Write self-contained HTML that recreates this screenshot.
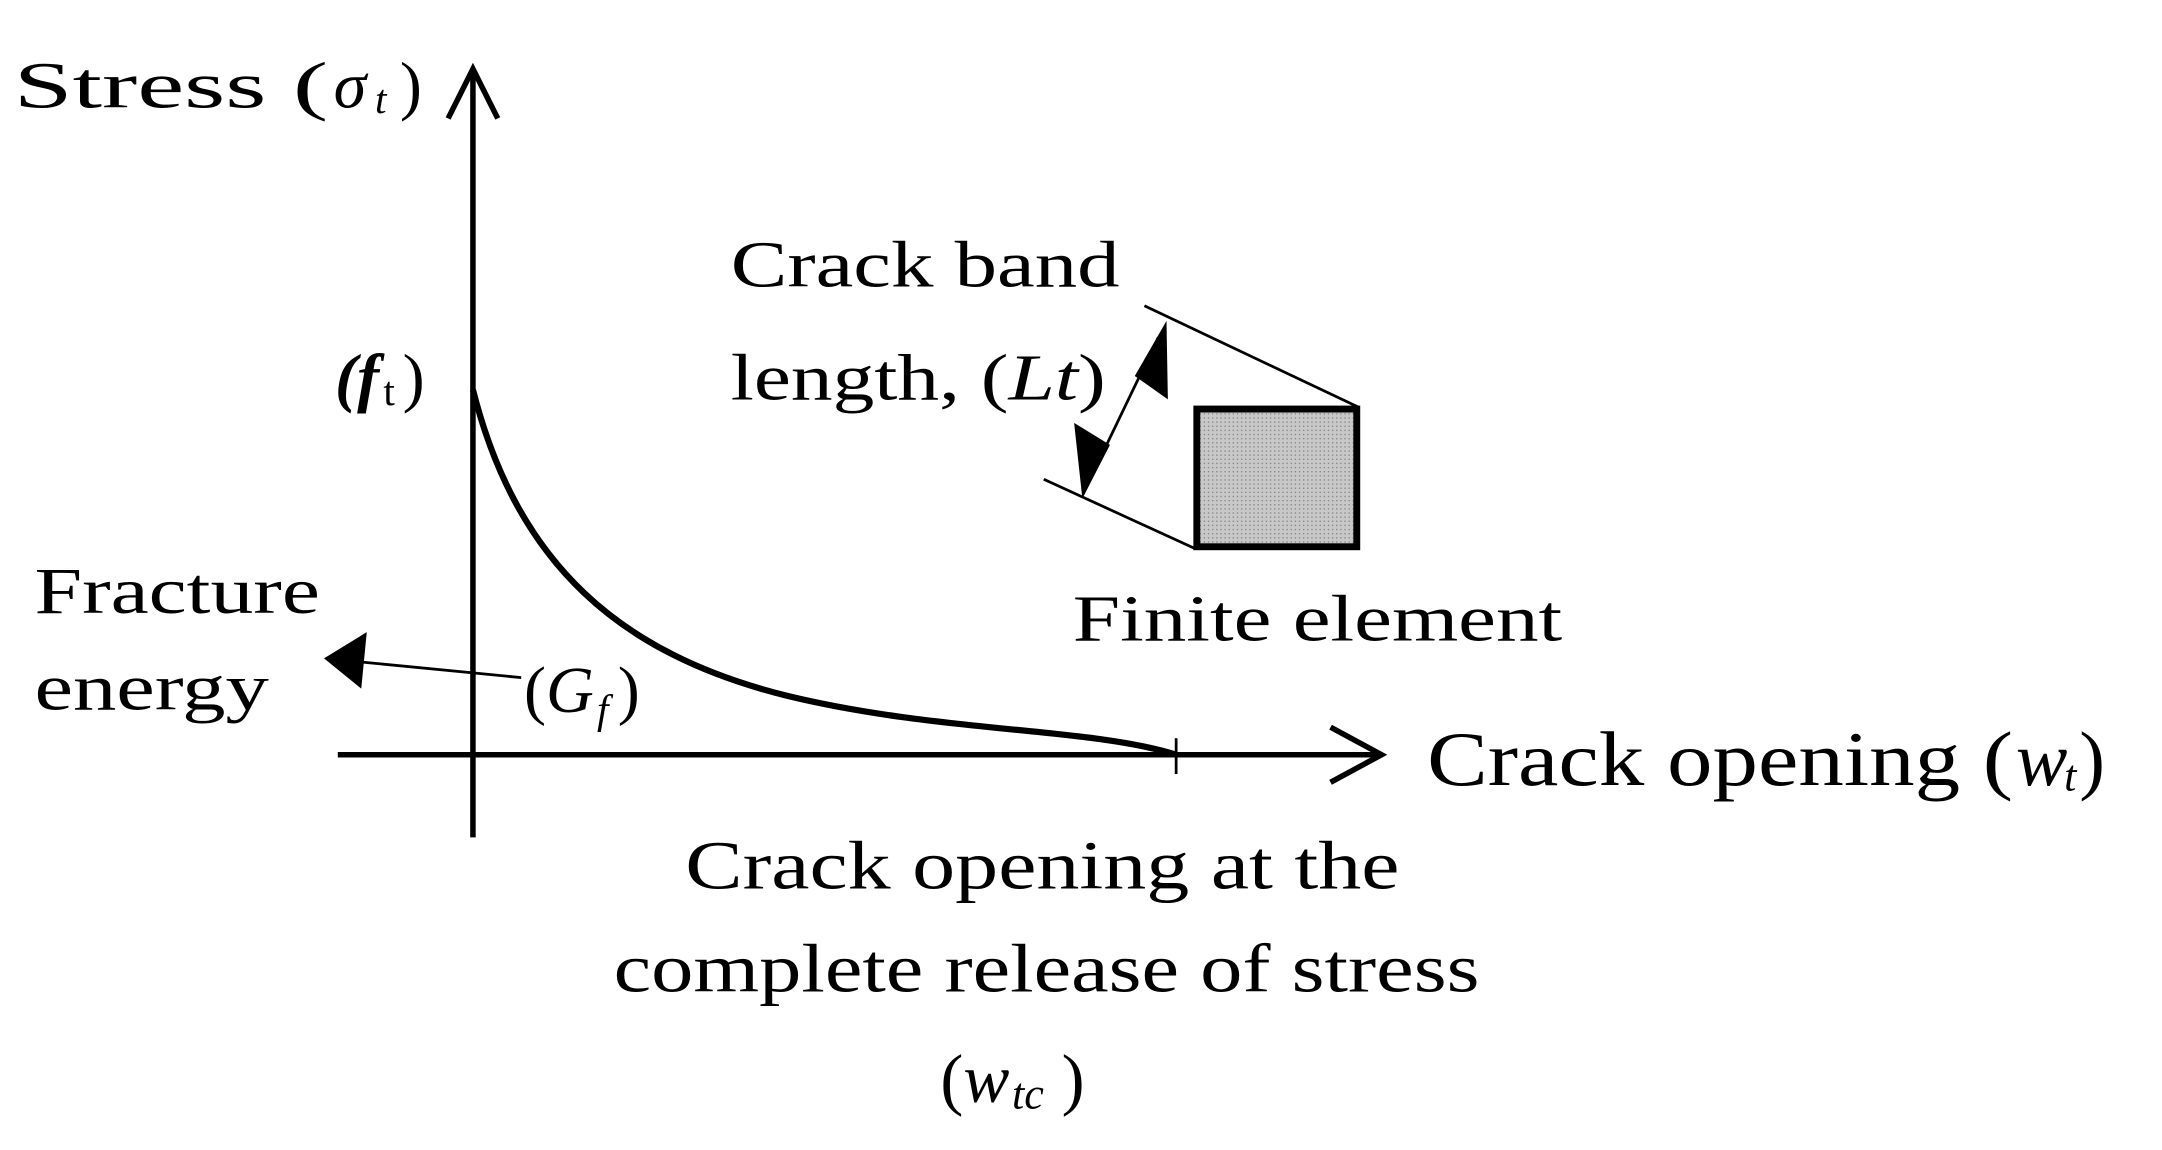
<!DOCTYPE html>
<html><head><meta charset="utf-8"><style>
html,body{margin:0;padding:0;background:#fff;}
svg{display:block;}
text{font-family:"Liberation Serif",serif;fill:#000;}
</style></head><body>
<svg width="2162" height="1150" viewBox="0 0 1568 835" preserveAspectRatio="none" xmlns="http://www.w3.org/2000/svg">
<defs>
<pattern id="dots" width="3" height="3" patternUnits="userSpaceOnUse">
<rect width="3" height="3" fill="#c8c8c8"/><rect width="1" height="1" fill="#888"/>
</pattern>
</defs>
<line x1="343" y1="52" x2="343" y2="608" stroke="#000" stroke-width="4"/>
<polyline points="325,86 343,50 361,86" fill="none" stroke="#000" stroke-width="4"/>
<line x1="245" y1="548" x2="1000" y2="548" stroke="#000" stroke-width="4"/>
<polyline points="965,528 1002,548 965,568" fill="none" stroke="#000" stroke-width="4"/>
<line x1="853" y1="536" x2="853" y2="562" stroke="#000" stroke-width="2"/>
<path d="M343,283 C375,410 450,475 570,505 C680,532 790,528 853,548" fill="none" stroke="#000" stroke-width="4.5"/>
<line x1="830" y1="222" x2="986" y2="296" stroke="#000" stroke-width="2"/>
<line x1="757" y1="348" x2="866" y2="398" stroke="#000" stroke-width="2"/>
<rect x="868" y="297" width="116" height="100" fill="url(#dots)" stroke="#000" stroke-width="5"/>
<line x1="840" y1="245" x2="792" y2="345" stroke="#000" stroke-width="2"/>
<polygon points="846,233 847,290 823,273" fill="#000"/>
<polygon points="785,362 779,307 805,323" fill="#000"/>
<line x1="378" y1="492" x2="255" y2="480" stroke="#000" stroke-width="2"/>
<polygon points="235,478 266,459 262,500" fill="#000"/>
<text x="10" y="78" font-size="48" textLength="228" lengthAdjust="spacingAndGlyphs">Stress (</text>
<text x="242" y="78" font-size="48" font-style="italic">σ</text>
<text x="272" y="82" font-size="30" font-style="italic">t</text>
<text x="290" y="78" font-size="48">)</text>
<text x="243" y="290" font-size="48" font-style="italic" font-weight="bold">(f</text>
<text x="278" y="294" font-size="30">t</text>
<text x="292" y="290" font-size="48">)</text>
<text x="530" y="208" font-size="48" textLength="282" lengthAdjust="spacingAndGlyphs">Crack band</text>
<text x="530" y="290" font-size="48" textLength="272" lengthAdjust="spacingAndGlyphs">length, (<tspan font-style="italic">Lt</tspan>)</text>
<text x="778" y="465" font-size="48" textLength="355" lengthAdjust="spacingAndGlyphs">Finite element</text>
<text x="25" y="445" font-size="48" textLength="207" lengthAdjust="spacingAndGlyphs">Fracture</text>
<text x="25" y="515" font-size="48" textLength="170" lengthAdjust="spacingAndGlyphs">energy</text>
<text x="380" y="517" font-size="48">(<tspan font-style="italic">G</tspan></text>
<text x="433" y="525" font-size="30" font-style="italic">f</text>
<text x="448" y="517" font-size="48">)</text>
<text x="1035" y="570" font-size="56" textLength="425" lengthAdjust="spacingAndGlyphs">Crack opening (</text>
<text x="1462" y="570" font-size="56" font-style="italic">w</text>
<text x="1497" y="574" font-size="32" font-style="italic">t</text>
<text x="1508" y="570" font-size="56">)</text>
<text x="497" y="645" font-size="50" textLength="518" lengthAdjust="spacingAndGlyphs">Crack opening at the</text>
<text x="445" y="720" font-size="50" textLength="628" lengthAdjust="spacingAndGlyphs">complete release of stress</text>
<text x="682" y="800" font-size="50">(<tspan font-style="italic">w</tspan></text>
<text x="734" y="805" font-size="32" font-style="italic">tc</text>
<text x="770" y="800" font-size="50">)</text>
</svg>
</body></html>
